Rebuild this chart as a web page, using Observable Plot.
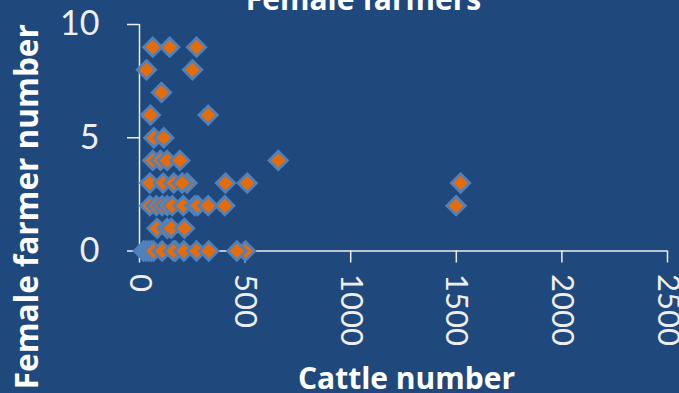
<!DOCTYPE html>
<html>
<head>
<meta charset="utf-8">
<script src="https://cdn.jsdelivr.net/npm/d3@7"></script>
<script src="https://cdn.jsdelivr.net/npm/@observablehq/plot@0.6"></script>
<style>
  html, body { margin: 0; padding: 0; background: #1F497D; overflow: hidden; }
</style>
</head>
<body>
<div id="chart"></div>
<script>
// Cattle owned per household and the number of female farmers in it
const cattle = [
  63, 143, 270,
  33, 251,
  104,
  52, 325,
  68, 115,
  63, 99, 131, 191, 657,
  49, 112, 162, 225, 202, 407, 510, 1520,
  49, 80, 107, 131, 155, 207, 262, 275, 325, 404, 1499,
  83, 131, 150, 213,
  19, 30, 43, 55, 66, 107, 170, 161, 210, 270, 328, 502, 461
];
const femaleFarmers = [
  9, 9, 9,
  8, 8,
  7,
  6, 6,
  5, 5,
  4, 4, 4, 4, 4,
  3, 3, 3, 3, 3, 3, 3, 3,
  2, 2, 2, 2, 2, 2, 2, 2, 2, 2, 2,
  1, 1, 1, 1,
  0, 0, 0, 0, 0, 0, 0, 0, 0, 0, 0, 0, 0
];
const xTicks = [0, 500, 1000, 1500, 2000, 2500];
const yTicks = [0, 5, 10];
const chartTitle = "Female farmers";
const xTitle = "Cattle number";
const yTitle = "Female farmer number";

const farms = cattle.map((c, i) => ({cattle: c, female: femaleFarmers[i]}));

const bg = "#1F497D";
const axisColor = "#EEEEEE";
const titleFont = "'Open Sans', sans-serif";

const chart = Plot.plot({
  width: 679,
  height: 393,
  marginLeft: 139,
  marginRight: 12,
  marginTop: 24,
  marginBottom: 142.5,
  style: {background: bg, color: "#FFFFFF", fontFamily: "Lato, sans-serif", overflow: "visible"},
  x: {domain: [0, 2500]},
  y: {domain: [0, 10]},
  marks: [
    Plot.ruleY([0], {stroke: axisColor, strokeWidth: 1.5}),
    Plot.ruleX([0], {stroke: axisColor, strokeWidth: 1.5}),
    Plot.axisX({ticks: xTicks, tickFormat: d => String(d), tickSize: 12, tickPadding: 11, tickRotate: 90,
      fontSize: 31, color: axisColor, strokeWidth: 1.5, label: null}),
    Plot.axisY({ticks: yTicks, tickFormat: d => String(d), tickSize: 12, tickPadding: 28, fontSize: 34,
      color: axisColor, strokeWidth: 1.5, label: null}),
    Plot.dot(farms, {x: "cattle", y: "female", symbol: "diamond2", r: 8.3,
      fill: "#E46C0A", stroke: "#4F81BD", strokeWidth: 2.75}),
    Plot.text([chartTitle], {frameAnchor: "top", dx: -40, dy: -15, lineAnchor: "bottom", textAnchor: "middle",
      fontSize: 30, fontWeight: "bold", fontFamily: titleFont, fill: "#FFFFFF"}),
    Plot.text([xTitle], {frameAnchor: "bottom", dx: 3, dy: 138, lineAnchor: "bottom", textAnchor: "middle",
      fontSize: 30, fontWeight: "bold", fontFamily: titleFont, fill: "#FFFFFF"}),
    Plot.text([yTitle], {frameAnchor: "left", rotate: -90, dx: -112, dy: 69, lineAnchor: "middle", textAnchor: "middle",
      fontSize: 31.5, fontWeight: "bold", fontFamily: titleFont, fill: "#FFFFFF"})
  ]
});

document.getElementById("chart").append(chart);
</script>
</body>
</html>
